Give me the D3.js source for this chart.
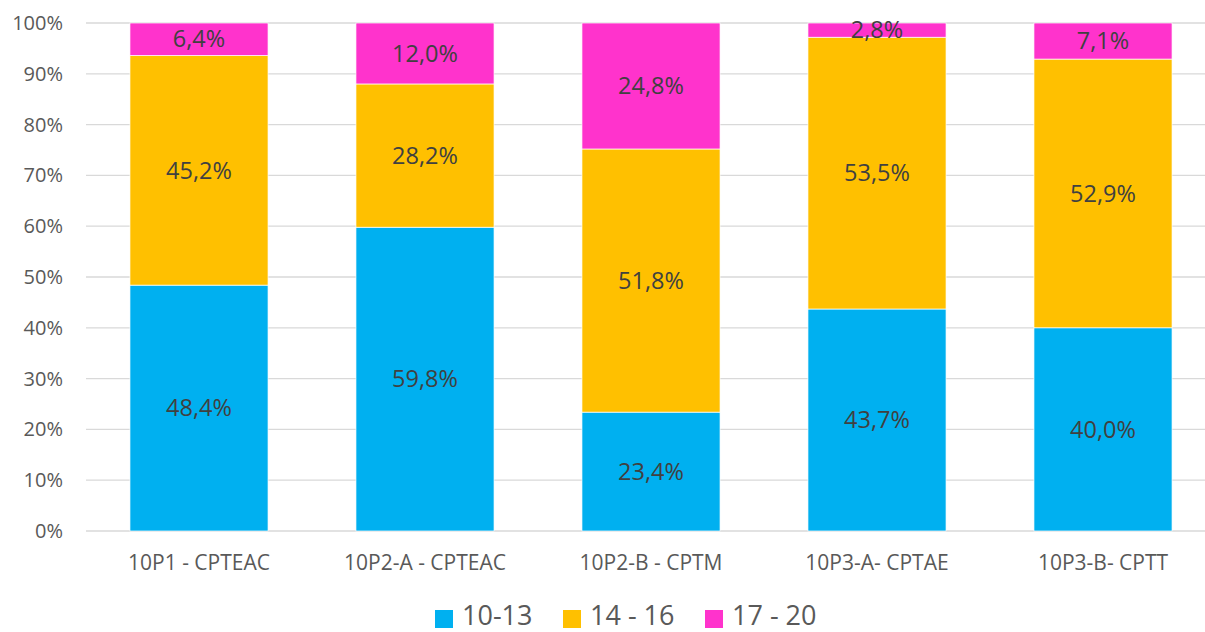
<!DOCTYPE html>
<html><head><meta charset="utf-8">
<script src="https://cdn.jsdelivr.net/npm/d3@7"></script>
<style>body{margin:0;background:#fff}svg{display:block}text{font-family:"Open Sans","Noto Sans",sans-serif;fill:#595959}</style>
</head><body><svg id="c" width="1205" height="632"></svg>
<script>
const categories = ["10P1 - CPTEAC","10P2-A - CPTEAC","10P2-B - CPTM","10P3-A- CPTAE","10P3-B- CPTT"];
const seriesNames = ["10-13","14 - 16","17 - 20"];
const s1013 = [48.4,59.8,23.4,43.7,40.0];
const s1416 = [45.2,28.2,51.8,53.5,52.9];
const s1720 = [6.4,12.0,24.8,2.8,7.1];
const yTicks = [0,10,20,30,40,50,60,70,80,90,100];
const colors = ["#00B0F0","#FFC000","#FF33CC"];

const svg = d3.select("#c");
const x = d3.scaleBand().domain(categories).range([86,1216]).paddingInner(0.389).paddingOuter(0.1945);
const y = d3.scaleLinear().domain([0,100]).range([531,23]);

const rows = categories.map((c,i)=>({cat:c,"10-13":s1013[i],"14 - 16":s1416[i],"17 - 20":s1720[i]}));
const stack = d3.stack().keys(seriesNames)(rows);

svg.append("g").selectAll("line").data(yTicks).join("line")
  .attr("x1",86).attr("x2",1205).attr("y1",d=>y(d)).attr("y2",d=>y(d))
  .attr("stroke","#D9D9D9").attr("stroke-width",1.3);

svg.append("g").selectAll("text").data(yTicks).join("text")
  .attr("x",63).attr("y",d=>y(d)).attr("dy","0.35em").attr("text-anchor","end")
  .style("font-size","20px").text(d=>d+"%");

const fmt = v => v.toFixed(1).replace(".",",")+"%";
stack.forEach((layer,li)=>{
  const g = svg.append("g");
  g.selectAll("rect").data(layer).join("rect")
    .attr("x",d=>x(d.data.cat)).attr("width",x.bandwidth())
    .attr("y",d=>y(d[1])).attr("height",d=>y(d[0])-y(d[1]))
    .attr("fill",colors[li]).attr("stroke","#fff").attr("stroke-width",0.7);
  g.selectAll("text").data(layer).join("text")
    .attr("x",d=>x(d.data.cat)+x.bandwidth()/2)
    .attr("y",d=>(y(d[0])+y(d[1]))/2).attr("dy","0.35em").attr("text-anchor","middle")
    .style("font-size","23.5px").style("fill","#404040")
    .text(d=>fmt(d[1]-d[0]));
});

svg.append("g").selectAll("text").data(categories).join("text")
  .attr("x",d=>x(d)+x.bandwidth()/2).attr("y",563).attr("dy","0.35em").attr("text-anchor","middle")
  .style("font-size","21px").text(d=>d);

const legX = [435,563,705];
const lg = svg.append("g");
seriesNames.forEach((n,i)=>{
  lg.append("rect").attr("x",legX[i]).attr("y",610).attr("width",18).attr("height",18).attr("fill",colors[i]);
  lg.append("text").attr("x",legX[i]+27).attr("y",616).attr("dy","0.35em").style("font-size","27px").text(n);
});
</script></body></html>
